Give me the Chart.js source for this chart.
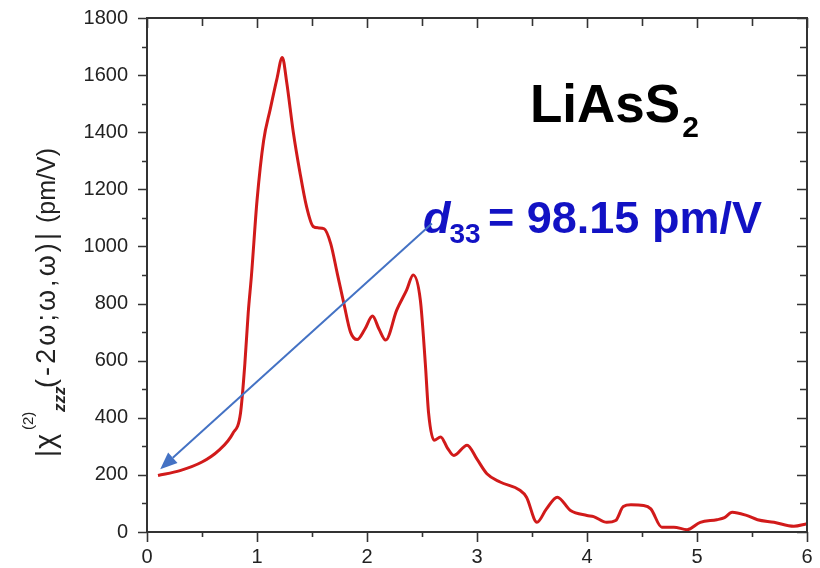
<!DOCTYPE html>
<html>
<head>
<meta charset="utf-8">
<script src="https://cdn.jsdelivr.net/npm/chart.js@4/dist/chart.umd.min.js"></script>
<style>
  html, body { margin: 0; padding: 0; background: #ffffff; }
  #wrap { width: 820px; height: 568px; position: relative; }
</style>
</head>
<body>
<div id="wrap"><canvas id="c" width="820" height="568"></canvas></div>
<script>
// Photon energy (eV)
const energy = [
  0.10, 0.30, 0.50, 0.65, 0.78, 0.85, 0.89, 0.92, 0.95, 1.00,
  1.06, 1.12, 1.18, 1.23, 1.27, 1.33, 1.39, 1.45, 1.51, 1.56,
  1.61, 1.67, 1.73, 1.79, 1.85, 1.91, 1.98, 2.05, 2.11, 2.17,
  2.27, 2.36, 2.42, 2.485, 2.53, 2.56, 2.61, 2.67, 2.73, 2.79,
  2.91, 3.00, 3.09, 3.21, 3.39, 3.45, 3.545, 3.63, 3.73, 3.85,
  4.00, 4.06, 4.18, 4.26, 4.33, 4.40, 4.515, 4.58, 4.68, 4.79,
  4.91, 5.03, 5.18, 5.25, 5.32, 5.45, 5.55, 5.70, 5.88, 6.00
];
// |chi(2)_zzz| (pm/V)
const chiZZZ = [
  198, 215, 245, 285, 345, 416, 591, 767, 900, 1160,
  1370, 1480, 1585, 1662, 1575, 1400, 1260, 1140, 1070, 1065,
  1062, 1010, 905, 800, 700, 674, 710, 756, 710, 672,
  777, 847, 900, 812, 591, 416, 321, 333, 295, 268,
  304, 255, 204, 175, 146, 122, 34, 80, 122, 75,
  58, 54, 34, 40, 89, 95, 93, 81, 17, 17,
  8, 34, 43, 50, 69, 58, 43, 34, 20, 29
];
const xTicks = [0, 1, 2, 3, 4, 5, 6];
const yTicks = [0, 200, 400, 600, 800, 1000, 1200, 1400, 1600, 1800];
const compound = 'LiAsS';
const compoundSub = '2';
const d33Value = 98.15;
// arrow from the d33 label down to the low-energy limit (energy, value)
const arrowFrom = [2.59, 1080];
const arrowTo = [0.12, 220];

const FONT = '"Liberation Sans", Arial, sans-serif';
const points = energy.map((e, i) => ({ x: e, y: chiZZZ[i] }));

const framePlugin = {
  id: 'frame',
  afterDatasetsDraw(chart) {
    const { ctx, chartArea: a, scales } = chart;
    const xs = scales.x, ys = scales.y;
    ctx.save();
    ctx.strokeStyle = '#333333';
    ctx.lineWidth = 2;
    ctx.strokeRect(a.left, a.top, a.right - a.left, a.bottom - a.top);
    ctx.lineWidth = 1.6;
    ctx.beginPath();
    // x ticks: bottom (outside) and top (mirrored, pointing down)
    for (let v = 0; v <= 6.0001; v += 0.5) {
      const px = Math.round(xs.getPixelForValue(v)) + 0.5;
      const major = Math.abs(v - Math.round(v)) < 1e-6;
      ctx.moveTo(px, a.bottom); ctx.lineTo(px, a.bottom + (major ? 10 : 5));
      ctx.moveTo(px, a.top); ctx.lineTo(px, a.top + (major ? 10 : 8));
    }
    // y ticks: left (outside) and right (mirrored, pointing left)
    for (let v = 0; v <= 1800; v += 100) {
      const py = Math.round(ys.getPixelForValue(v)) + 0.5;
      const major = v % 200 === 0;
      ctx.moveTo(a.left, py); ctx.lineTo(a.left - (major ? 9 : 5), py);
      ctx.moveTo(a.right, py); ctx.lineTo(a.right - (major ? 10 : 7), py);
    }
    ctx.stroke();
    ctx.restore();
  },
  afterDraw(chart) {
    const { ctx, scales } = chart;
    const xs = scales.x, ys = scales.y;
    ctx.save();

    // y-axis title: |chi^(2)_zzz(-2w;w,w)| (pm/V)
    ctx.translate(55, 457);
    ctx.rotate(-Math.PI / 2);
    ctx.fillStyle = '#222222';
    ctx.textAlign = 'left';
    ctx.textBaseline = 'alphabetic';
    ctx.font = '27px ' + FONT;
    ctx.fillText('|', 0, 0);
    ctx.font = '29px ' + FONT;
    ctx.fillText('χ', 8, 0);
    ctx.font = '15px ' + FONT;
    ctx.fillText('(2)', 27, -22);
    ctx.font = 'italic bold 17px ' + FONT;
    ctx.fillText('zzz', 45, 10);
    ctx.font = '27px ' + FONT;
    const seg = '(-2ω;ω,ω)|';
    const natural = ctx.measureText(seg).width;
    ctx.letterSpacing = Math.max(0, (158 - natural) / seg.length) + 'px';
    ctx.fillText(seg, 69, 0);
    ctx.letterSpacing = '0px';
    ctx.font = '25px ' + FONT;
    ctx.fillText('(pm/V)', 234, 0);
    ctx.setTransform(1, 0, 0, 1, 0, 0);

    // compound name
    ctx.fillStyle = '#000000';
    ctx.font = 'bold 53px ' + FONT;
    ctx.fillText(compound, 530, 122);
    const cw = ctx.measureText(compound).width;
    ctx.font = 'bold 30px ' + FONT;
    ctx.fillText(compoundSub, 530 + cw + 2, 137);

    // d33 label
    ctx.fillStyle = '#1212c4';
    ctx.font = 'italic bold 45px ' + FONT;
    ctx.fillText('d', 423, 233);
    const dw = ctx.measureText('d').width;
    ctx.font = 'bold 28px ' + FONT;
    ctx.fillText('33', 423 + dw - 1, 243);
    ctx.font = 'bold 45px ' + FONT;
    ctx.fillText('= ' + d33Value.toFixed(2) + ' pm/V', 488, 233);

    // arrow
    const x0 = xs.getPixelForValue(arrowFrom[0]), y0 = ys.getPixelForValue(arrowFrom[1]);
    const x1 = xs.getPixelForValue(arrowTo[0]), y1 = ys.getPixelForValue(arrowTo[1]);
    const ang = Math.atan2(y1 - y0, x1 - x0);
    const headL = 17, headW = 7;
    const bx = x1 - headL * Math.cos(ang), by = y1 - headL * Math.sin(ang);
    ctx.strokeStyle = '#4472c4';
    ctx.fillStyle = '#4472c4';
    ctx.lineWidth = 2;
    ctx.beginPath();
    ctx.moveTo(x0, y0); ctx.lineTo(bx, by);
    ctx.stroke();
    ctx.beginPath();
    ctx.moveTo(x1, y1);
    ctx.lineTo(bx + headW * Math.sin(ang), by - headW * Math.cos(ang));
    ctx.lineTo(bx - headW * Math.sin(ang), by + headW * Math.cos(ang));
    ctx.closePath();
    ctx.fill();
    ctx.restore();
  }
};

new Chart(document.getElementById('c'), {
  type: 'scatter',
  data: {
    datasets: [{
      data: points,
      showLine: true,
      borderColor: '#d11a1a',
      borderWidth: 3,
      pointRadius: 0,
      cubicInterpolationMode: 'monotone',
      fill: false
    }]
  },
  options: {
    responsive: false,
    animation: false,
    devicePixelRatio: 1,
    layout: { padding: { left: 0, right: 13, top: 18, bottom: 0 } },
    plugins: { legend: { display: false }, tooltip: { enabled: false } },
    scales: {
      x: {
        type: 'linear',
        min: 0, max: 6,
        afterBuildTicks(s) { s.ticks = xTicks.map(v => ({ value: v })); },
        afterFit(s) {
          s.height = 36;
          s.paddingLeft = 0; s.paddingRight = 0;
        },
        grid: { display: false },
        border: { display: false },
        ticks: {
          color: '#222222',
          font: { family: FONT, size: 20 },
          padding: 5,
          maxRotation: 0,
          callback: v => String(v)
        }
      },
      y: {
        type: 'linear',
        min: 0, max: 1800,
        afterBuildTicks(s) { s.ticks = yTicks.map(v => ({ value: v })); },
        afterFit(s) {
          s.width = 147;
          s.paddingTop = 0; s.paddingBottom = 0;
        },
        grid: { display: false },
        border: { display: false },
        ticks: {
          color: '#222222',
          font: { family: FONT, size: 20 },
          padding: 11,
          callback: v => String(v)
        }
      }
    }
  },
  plugins: [framePlugin]
});
</script>
</body>
</html>
